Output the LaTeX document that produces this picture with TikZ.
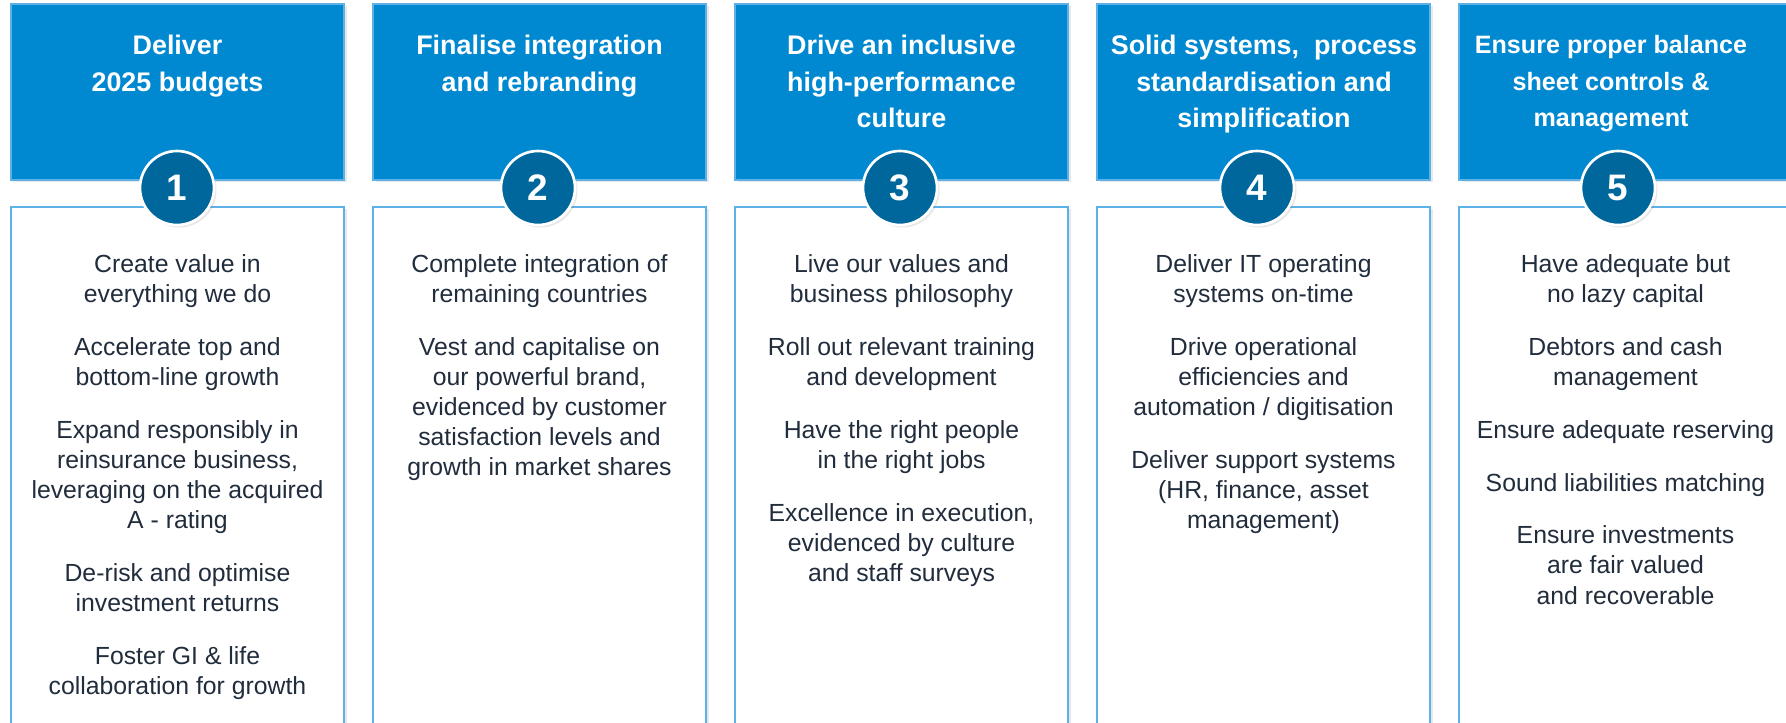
\documentclass[tikz,border=0pt]{standalone}
\usepackage{fontspec}
\setmainfont{Liberation Sans}
\usepackage{tikz}
\usepackage{xcolor}
\usetikzlibrary{shadows}
\definecolor{headblue}{RGB}{0,137,208}
\definecolor{numblue}{RGB}{0,103,157}
\definecolor{edgeblue}{RGB}{92,178,230}
\definecolor{navytext}{RGB}{33,45,60}
\begin{document}
\begin{tikzpicture}[x=0.02cm, y=-0.02cm,
                    softshadow/.style={drop shadow={opacity=0.18, shadow xshift=0.05cm, shadow yshift=-0.05cm}},
                    headbox/.style={fill=headblue, draw=edgeblue, line width=0.8pt, softshadow},
                    bodybox/.style={fill=white, draw=edgeblue, line width=0.8pt, softshadow},
                    headtext/.style={anchor=north, inner sep=0pt, align=center, text=white,
                                     font=\fontsize{15.3pt}{20.8pt}\selectfont\bfseries},
                    bodytext/.style={anchor=north, inner sep=0pt, align=center, text=navytext,
                                     font=\fontsize{14.1pt}{17.1pt}\selectfont},
                    numcircle/.style={circle, fill=numblue, draw=white, line width=1.5pt,
                                      minimum size=1.48cm, inner sep=0pt, text=white,
                                      font=\fontsize{21pt}{21pt}\selectfont\bfseries, softshadow}]
    \useasboundingbox (0,0) rectangle (1786,723);
    \clip (0,0) rectangle (1786,723);
    % column boxes
    \path[bodybox] (11,207) rectangle ++(333,560);
    \path[bodybox] (373,207) rectangle ++(333,560);
    \path[bodybox] (735,207) rectangle ++(333,560);
    \path[bodybox] (1097,207) rectangle ++(333,560);
    \path[bodybox] (1459,207) rectangle ++(333,560);
    \path[headbox] (11,4) rectangle ++(333,176);
    \path[headbox] (373,4) rectangle ++(333,176);
    \path[headbox] (735,4) rectangle ++(333,176);
    \path[headbox] (1097,4) rectangle ++(333,176);
    \path[headbox] (1459,4) rectangle ++(333,176);
    % headings
    \node[headtext] (head1) at (177.5,35) {Deliver\\2025 budgets};
    \node[headtext] (head2) at (539.5,35) {Finalise integration\\and rebranding};
    \node[headtext] (head3) at (901.5,35) {Drive an inclusive\\high-performance\\culture};
    \node[headtext] (head4) at (1264,35) {Solid systems,\ \ process\\standardisation and\\simplification};
    \node[headtext, font=\fontsize{14.3pt}{20.8pt}\selectfont\bfseries] (head5) at (1611,35) {Ensure proper balance\\sheet controls \&\\management};
    % numbers
    \node[numcircle] (num1) at (177,188) {1};
    \node[numcircle] (num2) at (538,188) {2};
    \node[numcircle] (num3) at (900,188) {3};
    \node[numcircle] (num4) at (1257,188) {4};
    \node[numcircle] (num5) at (1618,188) {5};
    % goals
    \node[bodytext] (goals1) at (177.5,254) {Create value in\\everything we do\\[13pt]
        Accelerate top and\\bottom-line growth\\[13pt]
        Expand responsibly in\\reinsurance business,\\leveraging on the acquired\\A - rating\\[13pt]
        De-risk and optimise\\investment returns\\[13pt]
        Foster GI \& life\\collaboration for growth};
    \node[bodytext] (goals2) at (539.5,254) {Complete integration of\\remaining countries\\[13pt]
        Vest and capitalise on\\our powerful brand,\\evidenced by customer\\satisfaction levels and\\growth in market shares};
    \node[bodytext] (goals3) at (901.5,254) {Live our values and\\business philosophy\\[13pt]
        Roll out relevant training\\and development\\[13pt]
        Have the right people\\in the right jobs\\[13pt]
        Excellence in execution,\\evidenced by culture\\and staff surveys};
    \node[bodytext] (goals4) at (1263.5,254) {Deliver IT operating\\systems on-time\\[13pt]
        Drive operational\\efficiencies and\\automation / digitisation\\[13pt]
        Deliver support systems\\(HR, finance, asset\\management)};
    \node[bodytext] (goals5) at (1625.5,254) {Have adequate but\\no lazy capital\\[13pt]
        Debtors and cash\\management\\[13pt]
        Ensure adequate reserving\\[13pt]
        Sound liabilities matching\\[13pt]
        Ensure investments\\are fair valued\\and recoverable};
\end{tikzpicture}
\end{document}
